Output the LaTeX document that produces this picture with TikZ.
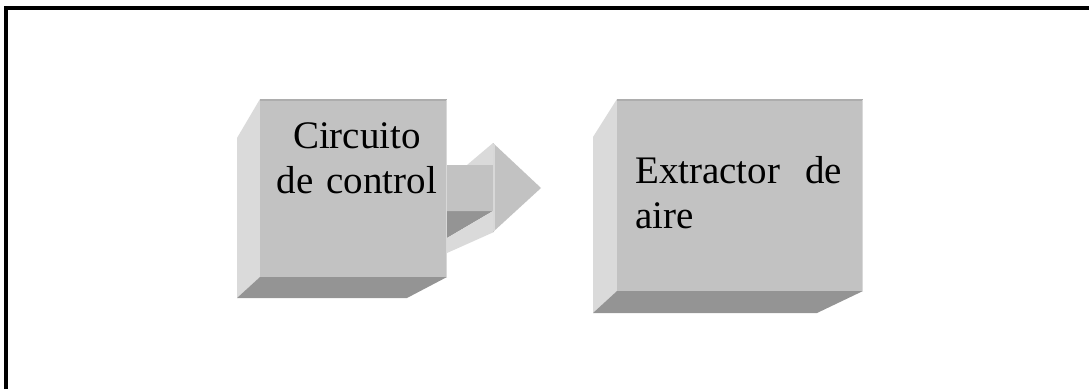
\documentclass[tikz,border=0pt]{standalone}
\usepackage{fontspec}
\setmainfont{Liberation Serif}
\begin{document}
\begin{tikzpicture}[x=1pt,y=-1pt,
  frontface/.style={fill=front,draw=none},
  sideface/.style={fill=side,draw=none},
  floorface/.style={fill=floor,draw=none},
  toprim/.style={draw=rimdark,line width=1.6pt},
  rightrim/.style={draw=rimlight,line width=1.2pt},
  label/.style={inner sep=0pt,font=\fontsize{39}{45}\selectfont}]
\definecolor{front}{HTML}{C2C2C2}
\definecolor{side}{HTML}{DADADA}
\definecolor{floor}{HTML}{949494}
\definecolor{rimdark}{HTML}{ADADAD}
\definecolor{rimlight}{HTML}{D8D8D8}
\useasboundingbox (0,0) rectangle (1089,389);

% frame: top and left rules only
\draw[line width=3.6pt,line join=miter] (5.8,389) -- (5.8,7.7) -- (1089,7.7);

% block arrow between the two blocks (drawn behind the first block)
\fill[side] (467,165) -- (493,143) -- (493,165) -- cycle;
\fill[floor] (447,211) -- (493,211) -- (447,238) -- cycle;
\fill[side] (447,238) -- (493,211) -- (494,232) -- (447,253) -- cycle;
\fill[front] (447,165) -- (493,165) -- (493,143) -- (541,188)
  -- (493,232) -- (493,211) -- (447,211) -- cycle;
\draw[rimlight,line width=1.6pt] (494,144) -- (494,231);

% first block: Circuito de control
\fill[sideface] (260,99) -- (237,138) -- (237,298) -- (260,277) -- cycle;
\fill[floorface] (260,277) -- (447,277) -- (407,298) -- (237,298) -- cycle;
\fill[frontface] (260,99) rectangle (447,277);
\draw[toprim] (260,99.8) -- (447,99.8);
\draw[rightrim] (446.6,100) -- (446.6,277);
\node[label,text width=187pt,align=center,anchor=base] (cc) at (357,148)
  {Circuito\\de control};

% second block: Extractor de aire
\fill[sideface] (617,99) -- (593,137) -- (593,313) -- (617,291) -- cycle;
\fill[floorface] (617,291) -- (863,291) -- (817,313) -- (593,313) -- cycle;
\fill[frontface] (617,99) rectangle (863,291);
\draw[toprim] (617,99.8) -- (863,99.8);
\draw[rightrim] (862.6,100) -- (862.6,291);
\node[label,text width=207pt,align=left,anchor=base west] (ea) at (635,183)
  {Extractor\hfill de\\aire};
\end{tikzpicture}
\end{document}
